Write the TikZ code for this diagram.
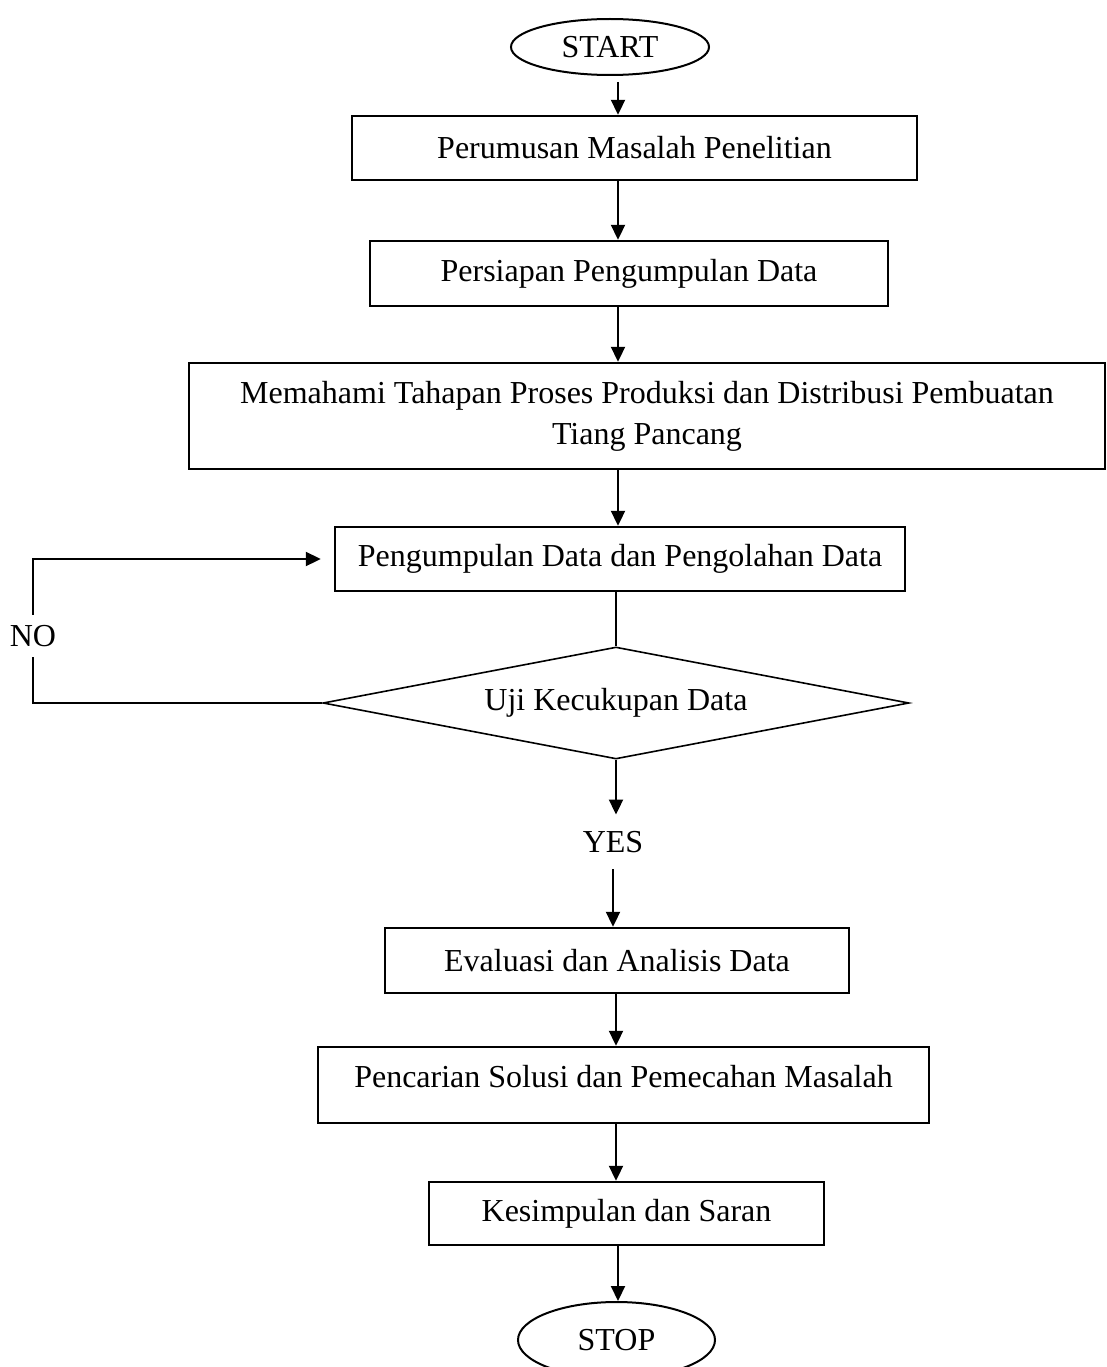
\documentclass[tikz,border=0pt]{standalone}
\usepackage{fontspec}
\setmainfont{Liberation Serif}
\usetikzlibrary{shapes.geometric,arrows.meta}

\tikzset{
  prosesbox/.style={draw, line width=2.4pt, rectangle, inner sep=0pt, align=center},
  terminal/.style={draw, line width=2pt, ellipse, inner sep=0pt},
  decision/.style={draw, line width=1.6pt, diamond, aspect=5.2, inner sep=0pt},
  alur/.style={line width=2pt, -{Triangle[length=15pt,width=14pt]}},
  garis/.style={line width=2pt}
}

\begin{document}
\begin{tikzpicture}[x=1pt,y=-1pt,font=\fontsize{32}{41}\selectfont]
\useasboundingbox[fill=white] (0,0) rectangle (1107,1367);
\coordinate (Axis) at (618,0);
\node[terminal, minimum width=198pt, minimum height=56pt] (Start) at (610,47) {START};
\node[prosesbox, minimum width=565pt, minimum height=64pt] (Perumusan) at (634.5,148) {Perumusan Masalah Penelitian};
\node[prosesbox, minimum width=518pt, minimum height=65pt] (Persiapan) at (629,273.5) {Persiapan Pengumpulan Data};
\node[prosesbox, minimum width=916pt, minimum height=106pt] (Memahami) at (647,416) {Memahami Tahapan Proses Produksi dan Distribusi Pembuatan\\Tiang Pancang};
\node[prosesbox, minimum width=570pt, minimum height=64pt] (Pengumpulan) at (620,559) {Pengumpulan Data dan Pengolahan Data};
\node[decision, minimum width=586pt, minimum height=112pt] (Uji) at (616,703) {Uji Kecukupan Data};
\node[inner sep=10.5pt] (No) at (33,636) {NO};
\node[inner sep=16.5pt] (Yes) at (613,842) {YES};
\node[prosesbox, minimum width=464pt, minimum height=65pt] (Evaluasi) at (617,960.5) {Evaluasi dan Analisis Data};
\node[prosesbox, minimum width=611pt, minimum height=76pt, text height=21pt, text depth=17pt] (Pencarian) at (623.5,1085) {Pencarian Solusi dan Pemecahan Masalah};
\node[prosesbox, minimum width=395pt, minimum height=63pt] (Kesimpulan) at (626.5,1213.5) {Kesimpulan dan Saran};
\node[terminal, minimum width=197pt, minimum height=76pt] (Stop) at (616.5,1340) {STOP};

\draw[alur, shorten <=6pt] (Start.south -| Axis) -- (Perumusan.north -| Axis);
\draw[alur] (Perumusan.south -| Axis) -- (Persiapan.north -| Axis);
\draw[alur] (Persiapan.south -| Axis) -- (Memahami.north -| Axis);
\draw[alur] (Memahami.south -| Axis) -- (Pengumpulan.north -| Axis);
\draw[garis] (Pengumpulan.south -| Uji.north) -- (Uji.north);
\draw[garis] (Uji.west) -| (No.south);
\draw[alur, shorten >=13pt] (No.north) |- (Pengumpulan.west);
\draw[alur] (Uji.south) -- (Uji.south |- Yes.north);
\draw[alur] (Yes.south) -- (Yes.south |- Evaluasi.north);
\draw[alur] (Evaluasi.south -| Uji.south) -- (Pencarian.north -| Uji.south);
\draw[alur] (Pencarian.south -| Uji.south) -- (Kesimpulan.north -| Uji.south);
\draw[alur] (Kesimpulan.south -| Axis) -- (Stop.north -| Axis);
\end{tikzpicture}
\end{document}
